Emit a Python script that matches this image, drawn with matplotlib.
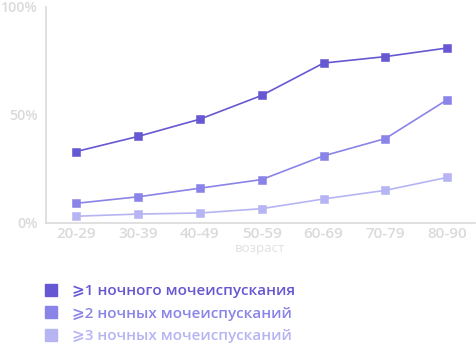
import matplotlib.pyplot as plt
from matplotlib.lines import Line2D

plt.rcParams['font.family'] = ['Open Sans', 'DejaVu Sans']

ages = ['20-29', '30-39', '40-49', '50-59', '60-69', '70-79', '80-90']
one_or_more = [33, 40, 48, 59, 74, 77, 81]
two_or_more = [9, 12, 16, 20, 31, 39, 57]
three_or_more = [3, 4, 4.5, 6.5, 11, 15, 21]

labels = ['⩾1 ночного мочеиспускания',
          '⩾2 ночных мочеиспусканий',
          '⩾3 ночных мочеиспусканий']
colors = ['#6658d3', '#8a84e8', '#b7b4f4']
series = [one_or_more, two_or_more, three_or_more]

grey = '#dadada'

fig = plt.figure(figsize=(4.77, 3.44), dpi=100)
ax = fig.add_axes([46 / 477, 1 - 222.7 / 344, 429 / 477, 215.7 / 344])

x = range(len(ages))
for vals, c in zip(series, colors):
    ax.plot(x, vals, color=c, lw=1.2, marker='s', ms=5.8,
            markeredgecolor=c, markeredgewidth=0.4, zorder=3)

ax.set_xlim(-0.49, 6.45)
ax.set_ylim(0, 100)
ax.set_xticks(list(x))
ax.set_xticklabels(ages)
ax.set_yticks([0, 50, 100])
ax.set_yticklabels(['0%', '50%', '100%'])
ax.tick_params(length=0, colors=grey)
ax.tick_params(axis='x', pad=3, labelsize=11)
ax.tick_params(axis='y', pad=6, labelsize=10.3)
for lab in ax.get_xticklabels() + ax.get_yticklabels():
    lab.set_fontweight(600)

for side in ['top', 'right']:
    ax.spines[side].set_visible(False)
for side in ['left', 'bottom']:
    ax.spines[side].set_color(grey)
    ax.spines[side].set_linewidth(1.2)

ax.set_xlabel('возраст', color='#e0e0e0', fontsize=9.5, labelpad=1)

handles = [Line2D([], [], ls='none', marker='s', ms=9, color=c) for c in colors]
leg = fig.legend(handles, labels, loc='upper left',
                 bbox_to_anchor=(37 / 477, 1 - 278 / 344),
                 frameon=False, handlelength=1.0, handletextpad=0.9,
                 labelspacing=0.56, prop={'size': 11, 'weight': 600},
                 labelcolor='linecolor', borderaxespad=0)

fig.savefig('out.png', dpi=100)
